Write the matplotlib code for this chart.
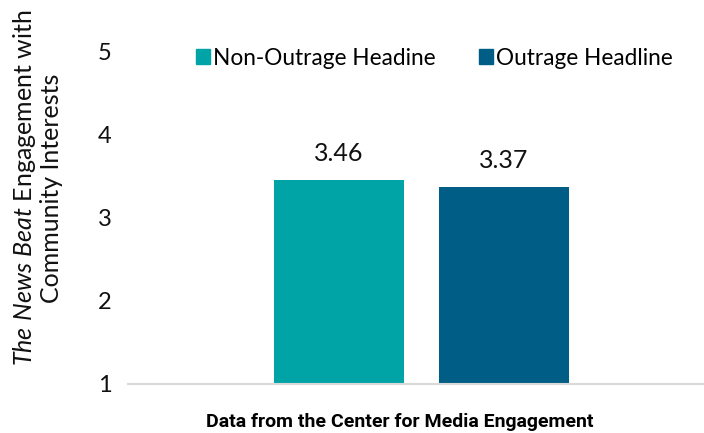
import matplotlib
matplotlib.use("Agg")
import matplotlib.pyplot as plt
from matplotlib.patches import Patch

plt.rcParams["font.family"] = ["Lato", "DejaVu Sans"]
plt.rcParams["mathtext.fontset"] = "custom"
plt.rcParams["mathtext.it"] = "Lato:italic"
plt.rcParams["mathtext.rm"] = "Lato"

# survey means per headline type
groups = ["Non-Outrage Headine", "Outrage Headline"]
means = [3.46, 3.37]
colors = ["#00A3A6", "#005E86"]
y_ticks = [1, 2, 3, 4, 5]

fig = plt.figure(figsize=(7.04, 4.33), dpi=100)
ax = fig.add_axes([0.182, 0.1132, 0.818, 0.7668])

offsets = [-0.635, 0.635]
bars = ax.bar(offsets, [m - 1 for m in means], width=1.0, bottom=1,
              color=colors, zorder=2)
for b, m in zip(bars, means):
    ax.annotate(f"{m:.2f}", (b.get_x() + b.get_width() / 2, m),
                xytext=(0, 11), textcoords="offset points",
                ha="center", va="bottom", fontsize=18, color="#111111")

ax.set_xlim(-2.258, 2.173)
ax.set_ylim(1, 5)
ax.set_yticks(y_ticks)
ax.set_yticklabels([str(t) for t in y_ticks], fontsize=17, color="#111111")
ax.set_xticks([])
ax.tick_params(axis="y", length=0, pad=12)
for s in ["top", "right", "left"]:
    ax.spines[s].set_visible(False)
ax.spines["bottom"].set_color("#d9d9d9")
ax.spines["bottom"].set_linewidth(1.5)

handles = [Patch(color=c, label=g) for c, g in zip(colors, groups)]
fig.legend(handles=handles, loc="center", bbox_to_anchor=(0.617, 0.866),
           ncol=2, frameon=False, fontsize=16.3, handlelength=0.62,
           handleheight=0.62, handletextpad=0.13, columnspacing=1.9)

fig.text(0.052, 0.566,
         r"$\it{The\ News\ Beat}$ Engagement with" + "\nCommunity Interests",
         rotation=90, ha="center", va="center", fontsize=18,
         multialignment="center", color="#111111", linespacing=1.1)

fig.text(0.568, 0.025, "Data from the Center for Media Engagement",
         ha="center", va="center", fontsize=14, fontweight="bold",
         family=["Roboto", "DejaVu Sans"], color="#000000")

fig.savefig("out.png", dpi=100)
